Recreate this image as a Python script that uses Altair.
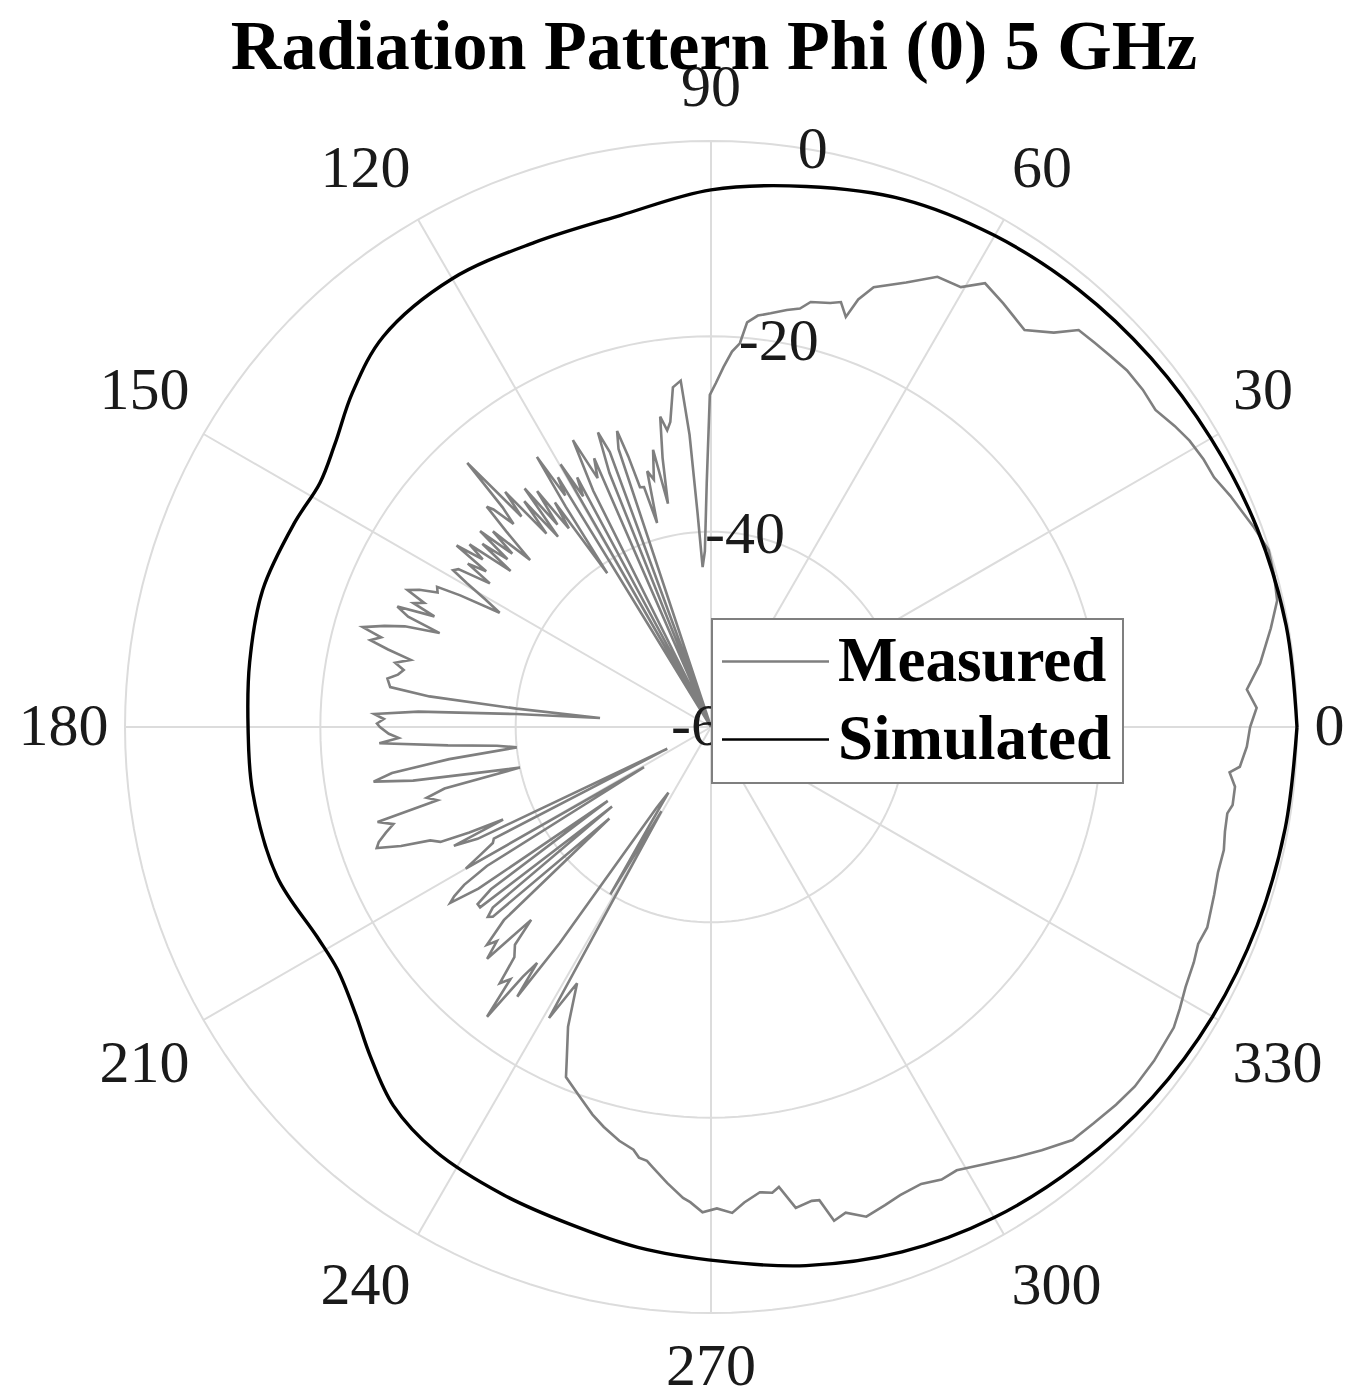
import altair as alt
import pandas as pd

TITLE = "Radiation Pattern Phi (0) 5 GHz"
ANGLE_TICKS = [0, 30, 60, 90, 120, 150, 180, 210, 240, 270, 300, 330]
RADIAL_TICKS = [-60, -40, -20, 0]
GRID_RINGS = [-40, -20, 0]
R_MIN = -60
SERIES = ["Measured", "Simulated"]

sim_angle = [0, 10, 20, 30, 40, 50, 60, 70, 80, 90, 100, 110, 120, 130, 137, 143, 148, 154,
             163, 172, 180, 188, 199, 208, 213, 219, 224, 230, 237, 246, 254, 262, 271, 280,
             290, 300, 310, 320, 330, 340, 350, 360]
sim_db = [0.0, -0.2, -0.5, -0.9, -1.2, -1.5, -1.9, -2.5, -3.8, -5.0, -6.8, -7.2, -7.0, -7.8,
          -9.8, -11.8, -12.8, -12.5, -12.0, -12.3, -12.6, -12.6, -13.0, -14.3, -14.4, -13.2,
          -11.5, -9.4, -8.2, -7.6, -7.1, -6.2, -5.3, -4.0, -2.8, -2.0, -1.5, -1.0, -0.7, -0.5,
          -0.3, 0.0]

meas_angle = [0, 2, 4, 6.6, 10, 12.6, 15, 17.6, 20.3, 22, 24, 26.4, 28.5, 30.9, 33, 35.5, 38,
              40.6, 43, 45, 47.2, 49, 51.7, 53.5, 55.4, 58.3, 60.4, 63.3, 66.3, 69.7, 71, 71.8,
              73, 74.3, 76.8, 78, 79.7, 81.8, 83.5, 84.9, 85.7, 86.8, 88, 89.2, 90.2, 91, 92,
              93, 93.6, 94.2,
              95, 96.4, 97.6, 98.4, 99.3, 100.2, 100.9, 101.8, 103, 104, 104.8, 105.6, 106.5,
              107.0, 107.6, 108.4, 109.2, 110.2, 111.0, 111.8, 112.6, 113.5, 114.5, 115.7,
              116.5, 117.3, 118.2, 119.0, 119.8, 120.6, 121.5, 122.2, 122.8, 123.4, 124.0,
              124.8, 125.6, 126.4, 127.2, 128.0, 128.8, 129.6, 130.4, 131.2, 132.0, 132.7,
              133.5, 134.2, 135.0, 135.5, 136.3, 137.3, 138.1, 138.9, 139.7, 140.5, 141.3,
              142.1, 142.9, 143.7, 144.5, 145.3, 146.1, 147.0, 148.0, 148.7, 149.5, 150.5,
              151.6, 152.3, 152.9, 153.8, 154.8, 155.7, 156.6, 157.4, 158.2, 159.0, 160.0,
              160.9, 161.8, 162.8, 164.0, 164.8, 165.7, 166.5, 167.4, 168.5, 169.5, 170.5,
              171.5, 172.9, 173.8, 174.6, 175.4, 176.2, 177.0, 177.8, 178.6, 179.4,
              180, 181.2, 182.0, 182.8, 184, 185, 186, 187, 188.2, 189.2, 190.2, 191, 192,
              193, 194, 195, 195.9, 197, 198, 199.1, 199.9, 201, 202, 203, 203.6, 204, 204.8,
              205.6, 206.4, 207.2, 208, 209, 210, 211, 211.8, 212.6, 213.4, 214, 214.8, 215.6,
              216.4, 217.2, 218, 218.8, 219.6, 220.4, 221, 222, 223, 224.2, 225, 226, 227,
              228, 229.5, 230.5, 231.5, 232.3, 233, 233.6, 234.3, 235, 236, 237, 238, 239,
              239.5, 240.9, 242.4, 244.5, 246.6,
              247.5, 250.5, 253, 255, 257.5, 259.6, 260.5, 261.6, 262.5, 264.5, 266.6, 267.5,
              269, 270.7, 272.5, 274, 276, 277.5, 278.4, 280, 282, 282.9, 284, 285.5, 287.6,
              290, 292, 294.7, 297, 299, 302, 305.4, 308, 311.2, 314, 317, 319.7, 323, 327,
              329, 331.3, 334, 336, 338, 341.6, 344, 346.5, 348.5, 350.5, 351.5, 353.5, 355,
              355.7, 357.9, 360]
meas_db = [-4.8, -4.1, -5.0, -3.4, -1.8, -0.6, -0.3, -0.1, -0.8, -1.3, -1.8, -2.5, -2.6, -2.9,
           -3.4, -4.1, -3.9, -3.9, -4.2, -4.4, -4.6, -6.5, -8.2, -7.8, -7.3, -6.6, -8.2, -8.4,
           -10.3, -12.0, -13.7, -15.8, -14.5, -14.9, -15.3, -16.2, -16.6, -17.2, -17.6, -18.4,
           -20.6, -21.5, -23.1, -24.8, -26.0, -35.0, -42.0, -43.6, -38.0, -30.0,
           -24.4, -25.0, -28.5, -29.3, -27.8, -32.0, -36.7, -31.0, -34.0, -33.0, -38.4, -34.5,
           -34.4, -31.0, -28.2, -30.0, -60.0, -30.0, -27.7, -32.0, -60.0, -30.0, -32.0, -27.4,
           -33.0, -60.0, -31.0, -33.0, -29.0, -60.0, -30.0, -32.0, -27.1, -33.0, -41.0,
           -32.0, -35.0, -30.0, -34.0, -29.0, -35.0, -30.0, -34.0, -28.0, -31.0, -23.2,
           -29.0, -31.0, -28.5, -27.8, -31.0, -34.8, -30.0, -33.0, -29.0, -33.0, -30.0,
           -34.0, -29.0, -31.0, -28.0, -32.0, -30.0, -33.0, -29.5, -29.1, -31.0, -33.4,
           -35.4, -31.0, -28.5, -28.8, -27.0, -25.9, -28.0, -27.0, -29.5, -25.6, -27.0,
           -30.6, -27.0, -25.0, -22.9, -25.0, -24.0, -26.0, -28.5, -27.0, -28.0, -27.5,
           -26.5, -26.9, -31.0, -40.0, -48.6, -40.0, -30.0, -25.5, -26.5, -25.8,
           -26.1, -27.0, -28.0, -26.0, -33.0, -38.0, -40.0, -33.0, -27.0, -25.0, -29.0, -35.0,
           -40.0, -32.0, -30.0, -31.0, -24.5, -26.0, -25.0, -24.0, -23.6, -26.0, -29.0, -29.9,
           -33.0, -36.7, -31.0, -33.5, -55.0, -35.0, -34.7, -33.0, -31.0, -52.0, -33.0, -30.0,
           -28.5, -27.8, -31.0, -47.0, -32.0, -30.0, -30.0, -47.0, -31.0, -30.0, -30.4, -46.0,
           -31.0, -28.0, -29.0, -27.0, -33.0, -30.0, -29.0, -26.0, -27.0, -22.5, -28.0, -30.0,
           -26.0, -33.0, -50.0, -52.0, -48.0, -40.0, -50.0, -25.9, -30.4, -26.0, -22.8,
           -21.2, -19.8, -18.5, -17.6, -16.6, -16.0, -15.3, -15.1, -14.5, -13.1, -11.7, -11.3,
           -10.3, -10.7, -10.2, -11.2, -12.1, -11.9, -12.4, -10.0, -10.4, -10.3, -7.9, -8.4,
           -7.4, -7.9, -8.3, -8.5, -8.0, -8.1, -7.2, -6.0, -5.0, -3.8, -3.6, -3.3, -3.1, -3.2,
           -3.5, -4.0, -4.6, -5.0, -5.4, -5.2, -5.7, -6.0, -6.0, -6.3, -6.4, -6.0, -6.0, -6.7,
           -5.7, -5.1, -4.8]

# ---------------------------------------------------------------- tables
meas = pd.DataFrame({"theta": meas_angle, "db": meas_db, "series": SERIES[0]})
sim = pd.DataFrame({"theta": sim_angle, "db": sim_db, "series": SERIES[1]})
meas["idx"] = range(len(meas))
sim["idx"] = range(len(sim))

ring_theta = list(range(0, 361, 2))
rings = pd.DataFrame([(r, t) for r in GRID_RINGS for t in ring_theta], columns=["db", "theta"])
spokes = pd.DataFrame({"theta": ANGLE_TICKS})
angle_labels = pd.DataFrame({"theta": ANGLE_TICKS, "label": [str(a) for a in ANGLE_TICKS]})
radial_labels = pd.DataFrame({"db": RADIAL_TICKS, "label": [str(v) for v in RADIAL_TICKS]})
title_df = pd.DataFrame({"label": [TITLE]})

# ---------------------------------------------------------------- geometry
W, H = 1336, 1384
CX, CY = 703, 719          # centre inside the plot area (px)
RPX = 586                  # radius of the 0 dB circle (px)
K = RPX / (0 - R_MIN)      # px per dB
xs = alt.Scale(domain=[-CX / K, (W - CX) / K], nice=False, zero=False)
ys = alt.Scale(domain=[-(H - CY) / K, CY / K], nice=False, zero=False)
X = lambda f: alt.X(f, scale=xs, axis=None)
Y = lambda f: alt.Y(f, scale=ys, axis=None)

FONT = "Liberation Serif"
GRID = "#dcdcdc"
TXT = "#1a1a1a"

polar_x = "max(datum.db - (%d), 0) * cos(datum.theta * PI / 180)" % R_MIN
polar_y = "max(datum.db - (%d), 0) * sin(datum.theta * PI / 180)" % R_MIN

ring_layer = alt.Chart(rings).transform_calculate(
    x=polar_x, y=polar_y
).mark_line(color=GRID, strokeWidth=2).encode(
    x=X("x:Q"), y=Y("y:Q"), detail="db:N", order="theta:Q",
)

spoke_layer = alt.Chart(spokes).transform_calculate(
    x0="0", y0="0",
    x1="%d * cos(datum.theta * PI / 180)" % (-R_MIN),
    y1="%d * sin(datum.theta * PI / 180)" % (-R_MIN),
).mark_rule(color=GRID, strokeWidth=2).encode(
    x=X("x0:Q"), y=Y("y0:Q"), x2="x1:Q", y2="y1:Q",
)

angle_text = alt.Chart(angle_labels).transform_calculate(
    c="cos(datum.theta * PI / 180)",
    s="sin(datum.theta * PI / 180)",
    x="(604 * datum.c + (datum.c > 0.01 ? 1 : (datum.c < -0.01 ? -1 : 0)) * length(datum.label) * 14.5) / %f" % K,
    y="(606 * datum.s + (datum.s > 0.01 ? 33 : (datum.s < -0.01 ? -34 : 0))) / %f" % K,
).mark_text(font=FONT, fontSize=60, color=TXT, align="center", baseline="middle").encode(
    x=X("x:Q"), y=Y("y:Q"), text="label:N",
)

radial_text = alt.Chart(radial_labels).transform_calculate(
    x="(datum.db - (%d)) * cos(80 * PI / 180)" % R_MIN,
    y="(datum.db - (%d)) * sin(80 * PI / 180)" % R_MIN,
).mark_text(font=FONT, fontSize=60, color=TXT, align="center", baseline="middle").encode(
    x=X("x:Q"), y=Y("y:Q"), text="label:N",
)

title_text = alt.Chart(title_df).transform_calculate(
    x="3 / %f" % K, y="(%d - 48) / %f" % (CY + 8, K)
).mark_text(font=FONT, fontSize=70, fontWeight="bold", color="black",
            align="center", baseline="middle").encode(
    x=X("x:Q"), y=Y("y:Q"), text="label:N",
)

color_enc = alt.Color(
    "series:N",
    scale=alt.Scale(domain=SERIES, range=["#7f7f7f", "#000000"]),
    legend=alt.Legend(
        orient="none", legendX=704, legendY=611, title=None,
        symbolType="M-3,0H3", symbolSize=1272, symbolStrokeWidth=2.6,
        symbolOffset=21, labelOffset=31,
        labelFont=FONT, labelFontSize=63, labelFontWeight="bold", labelColor="black",
        labelLimit=600, padding=11, rowPadding=14,
        strokeColor="#7f7f7f", fillColor="white", cornerRadius=0,
    ),
)

meas_layer = alt.Chart(meas).transform_calculate(
    x=polar_x, y=polar_y
).mark_line(interpolate="linear", strokeWidth=2.6).encode(
    x=X("x:Q"), y=Y("y:Q"), color=color_enc, order="idx:Q",
)

sim_layer = alt.Chart(sim).transform_calculate(
    x=polar_x, y=polar_y
).mark_line(interpolate="catmull-rom", strokeWidth=3.4).encode(
    x=X("x:Q"), y=Y("y:Q"), color=color_enc, order="idx:Q",
)

chart = alt.layer(
    ring_layer, spoke_layer, meas_layer, sim_layer, radial_text, angle_text, title_text
).properties(
    width=W, height=H, padding=0, autosize=alt.AutoSizeParams(type="none")
).configure_view(stroke=None).configure_legend(strokeWidth=2)

chart.save("out.html", embed_options={"renderer": "svg", "actions": False})
